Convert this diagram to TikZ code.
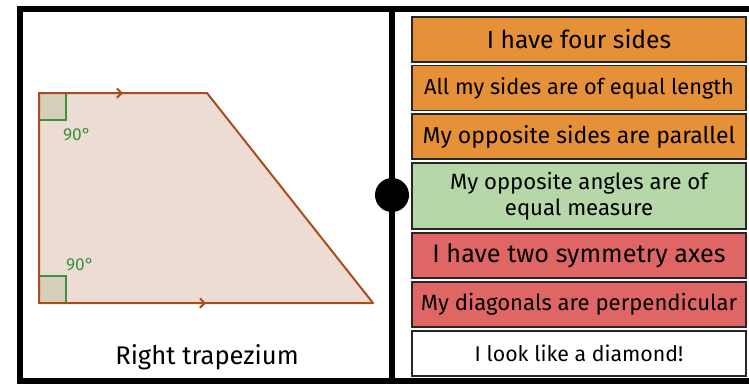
\documentclass[tikz,border=0pt]{standalone}
\usepackage{fontspec}
\setmainfont{Fira Sans}
\usetikzlibrary{decorations.markings, arrows.meta}

\definecolor{orangebox}{RGB}{230,145,56}
\definecolor{greenbox}{RGB}{182,215,168}
\definecolor{redbox}{RGB}{224,102,102}
\definecolor{trapfill}{RGB}{236,220,212}
\definecolor{trapline}{RGB}{168,78,28}
\definecolor{anglefill}{RGB}{214,207,188}
\definecolor{angleline}{RGB}{60,145,60}

\begin{document}
\begin{tikzpicture}[x=0.75pt, y=-0.75pt,
  frameline/.style={line width=4.5pt},
  propbox/.style={draw=black!85, line width=1pt, minimum width=250.5pt,
    minimum height=33.75pt, inner sep=0pt, align=center,
    font=\fontsize{16.3}{19.5}\selectfont},
  arrowmid/.style={postaction={decorate, decoration={markings,
    mark=at position 0.5 with {\arrow{Straight Barb[length=3.5pt, width=7pt]}}}}},
]
  \useasboundingbox (0,0) rectangle (749,383);
  % frame and hinge
  \draw[frameline] (749,9) -- (20,9) -- (20,381) -- (749,381);
  \draw[frameline] (392,9) -- (392,381);
  \fill (392,195) circle (12.75pt);
  % the trapezium
  \coordinate (A) at (39,93);
  \coordinate (B) at (207,93);
  \coordinate (C) at (373,303);
  \coordinate (D) at (39,303);
  \fill[trapfill] (A) -- (B) -- (C) -- (D) -- cycle;
  \filldraw[anglefill, draw=angleline, line width=1.5pt] (A) rectangle ++(27,27);
  \filldraw[anglefill, draw=angleline, line width=1.5pt] (D) rectangle ++(27,-27);
  \draw[trapline, line width=1.5pt, line join=round] (A) -- (B) -- (C) -- (D) -- cycle;
  \path[trapline, line width=1.5pt, arrowmid] (A) -- (B);
  \path[trapline, line width=1.5pt, arrowmid] (D) -- (C);
  \node[angleline, font=\fontsize{13}{15}\selectfont] (topangle) at (77,135) {90°};
  \node[angleline, font=\fontsize{13}{15}\selectfont] (botangle) at (80,265) {90°};
  \node[font=\fontsize{19.2}{22}\selectfont] (name) at (207,357) {Right trapezium};
  % properties
  \node[propbox, fill=orangebox, font=\fontsize{18.5}{22}\selectfont] (sides) at (579,39.5) {I have four sides};
  \node[propbox, fill=orangebox] (equal) at (579,88) {All my sides are of equal length};
  \node[propbox, fill=orangebox, font=\fontsize{17.3}{20}\selectfont] (parallel) at (579,136.5) {My opposite sides are parallel};
  \node[propbox, fill=greenbox, minimum height=49.5pt, font=\fontsize{16.6}{19.5}\selectfont] (angles) at (579,196) {My opposite angles are of\\equal measure};
  \node[propbox, fill=redbox, font=\fontsize{18.9}{22}\selectfont] (axes) at (579,255.5) {I have two symmetry axes};
  \node[propbox, fill=redbox, font=\fontsize{16.6}{19.5}\selectfont] (diagonals) at (579,304.5) {My diagonals are perpendicular};
  \node[propbox, fill=white, font=\fontsize{16}{19}\selectfont] (diamond) at (579,353.5) {I look like a diamond!};
\end{tikzpicture}
\end{document}
